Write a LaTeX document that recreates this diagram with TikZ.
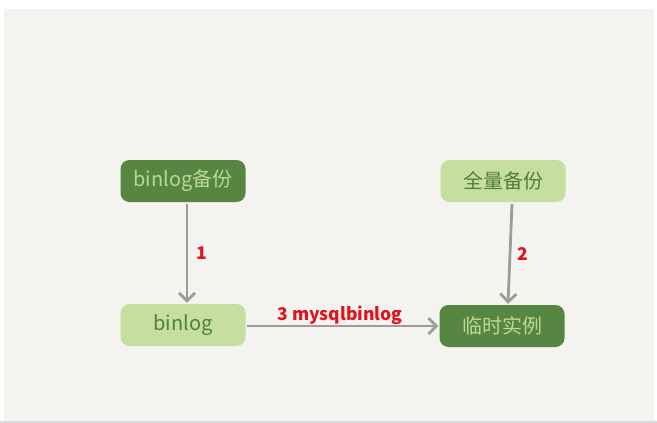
\documentclass[tikz,border=0pt]{standalone}
\usepackage{fontspec}
\setmainfont{Noto Sans CJK SC}
\newfontfamily\cjk{Noto Sans CJK SC}
\usetikzlibrary{arrows.meta}
\definecolor{bgc}{HTML}{F4F3EF}
\definecolor{darkg}{HTML}{578643}
\definecolor{lightg}{HTML}{C6DF9F}
\definecolor{txtlight}{HTML}{B9DA8E}
\definecolor{txtdark}{HTML}{4F7F3D}
\definecolor{arrowc}{HTML}{9C9C9C}
\definecolor{redc}{HTML}{E0141E}
\definecolor{linec}{HTML}{DADADA}
\tikzset{
  box/.style={rounded corners=9pt, minimum width=125pt, minimum height=42pt, inner sep=0pt, font=\cjk\fontsize{20}{23}\selectfont},
  darkbox/.style={box, fill=darkg, text=txtlight},
  lightbox/.style={box, fill=lightg, text=txtdark},
  flow/.style={draw=arrowc, line width=2.8pt, -{Straight Barb[length=8pt,width=16pt,line width=2.8pt]}},
  lbl/.style={text=redc, font=\cjk\bfseries\fontsize{17.5}{20}\selectfont}
}
\begin{document}
\begin{tikzpicture}[x=1pt,y=-1pt]
\useasboundingbox (0,0) rectangle (657,423);
\fill[white] (0,0) rectangle (657,423);
\fill[bgc] (4,9) rectangle (654,421);
\fill[linec] (0,421) rectangle (657,423);
\node[darkbox]  (bb) at (183,181) {binlog备份};
\node[lightbox] (qb) at (503,181) {全量备份};
\node[lightbox] (bl) at (183,325) {binlog};
\node[darkbox]  (ls) at (502,326) {临时实例};
\draw[flow] ([xshift=4pt,yshift=-2pt]bb.south) -- ([xshift=4pt,yshift=1pt]bl.north) node[midway, right=5pt, lbl] {1};
\draw[flow] ([xshift=9pt,yshift=-2pt]qb.south) -- ([xshift=6pt,yshift=1pt]ls.north) node[midway, right=3pt, lbl] {2};
\draw[flow] ([xshift=1pt,yshift=-1pt]bl.east) -- ([xshift=-1pt]ls.west);
\node[lbl, anchor=center] (l3) at (340,315) {3 mysqlbinlog};
\end{tikzpicture}
\end{document}
